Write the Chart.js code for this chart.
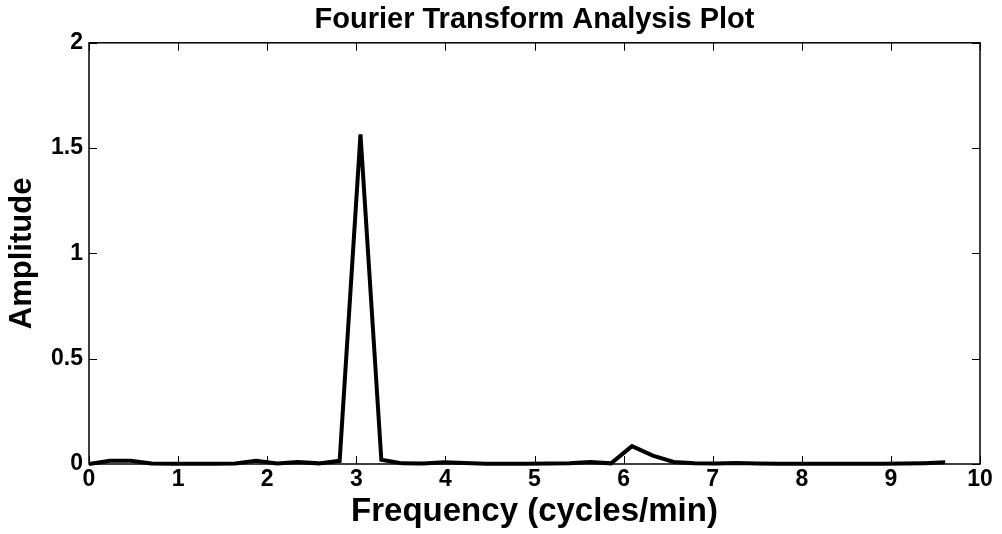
<!DOCTYPE html>
<html>
<head>
<meta charset="utf-8">
<script src="https://cdn.jsdelivr.net/npm/chart.js@4.4.1/dist/chart.umd.min.js"></script>
<style>
  html, body { margin: 0; padding: 0; background: #fff; }
  #wrap { width: 1002px; height: 534px; }
</style>
</head>
<body>
<div id="wrap"><canvas id="fft"></canvas></div>
<script>
// spectrum bins (cycles/min) and their amplitudes
const freq = [
  0, 0.234, 0.469, 0.703, 0.938, 1.172, 1.406, 1.641, 1.875, 2.109,
  2.344, 2.578, 2.813, 3.047, 3.281, 3.516, 3.750, 3.984, 4.219, 4.453,
  4.688, 4.922, 5.156, 5.391, 5.625, 5.859, 6.094, 6.328, 6.563, 6.797,
  7.031, 7.266, 7.500, 7.734, 7.969, 8.203, 8.438, 8.672, 8.906, 9.141,
  9.375, 9.609
]
const amplitude = [
  0, 0.015, 0.015, 0.002, 0.001, 0.001, 0.001, 0.002, 0.015, 0.002,
  0.01, 0.003, 0.015, 1.565, 0.02, 0.003, 0.002, 0.008, 0.005, 0.001,
  0.001, 0.001, 0.002, 0.003, 0.01, 0.003, 0.085, 0.04, 0.01, 0.004,
  0.002, 0.005, 0.002, 0.001, 0.001, 0.001, 0.001, 0.001, 0.001, 0.002,
  0.004, 0.008
]
const xTicks = [0, 1, 2, 3, 4, 5, 6, 7, 8, 9, 10]
const yTicks = [0, 0.5, 1, 1.5, 2]

const FONT = "'Liberation Sans', Arial, sans-serif"

// matlab style frame: box around the axes with inward ticks on all sides
const frame = {
  id: "frame",
  afterDraw(chart) {
    const { ctx, chartArea: a, scales: { x, y } } = chart
    const len = 8
    ctx.save()
    ctx.strokeStyle = "#000"
    ctx.lineWidth = 1.5
    ctx.strokeRect(a.left, a.top, a.right - a.left, a.bottom - a.top)
    ctx.lineWidth = 1
    ctx.beginPath()
    xTicks.forEach(v => {
      const px = Math.round(x.getPixelForValue(v)) + 0.5
      ctx.moveTo(px, a.bottom); ctx.lineTo(px, a.bottom - len)
      ctx.moveTo(px, a.top); ctx.lineTo(px, a.top + len)
    })
    yTicks.forEach(v => {
      const py = Math.round(y.getPixelForValue(v)) + 0.5
      ctx.moveTo(a.left, py); ctx.lineTo(a.left + len, py)
      ctx.moveTo(a.right, py); ctx.lineTo(a.right - len, py)
    })
    ctx.stroke()
    ctx.restore()
  }
}

new Chart(document.getElementById("fft"), {
  type: "line",
  data: {
    datasets: [{
      data: freq.map((f, i) => ({ x: f, y: amplitude[i] })),
      borderColor: "#000",
      borderWidth: 4,
      pointRadius: 0,
      tension: 0,
      fill: false,
      clip: false
    }]
  },
  options: {
    responsive: true,
    maintainAspectRatio: false,
    animation: false,
    layout: { padding: { left: 0, right: 22, top: 0, bottom: 0 } },
    plugins: {
      legend: { display: false },
      tooltip: { enabled: false },
      title: {
        display: true,
        fullSize: false,
        text: "Fourier Transform Analysis Plot",
        color: "#000",
        font: { family: FONT, size: 29, weight: "bold", lineHeight: 1.2 },
        padding: { top: 3, bottom: 5 }
      }
    },
    scales: {
      x: {
        type: "linear",
        min: 0,
        max: 10,
        afterFit: s => { s.height = 70 },
        afterBuildTicks: s => { s.ticks = xTicks.map(v => ({ value: v })) },
        grid: { display: false, drawTicks: false },
        border: { display: false },
        ticks: { color: "#000", padding: 2, font: { family: FONT, size: 23, weight: "bold" } },
        title: {
          display: true,
          text: "Frequency (cycles/min)",
          color: "#000",
          font: { family: FONT, size: 33, weight: "bold", lineHeight: 1.15 },
          padding: { top: 0, bottom: 3 }
        }
      },
      y: {
        min: 0,
        max: 2,
        afterFit: s => { s.width = 89 },
        afterBuildTicks: s => { s.ticks = yTicks.map(v => ({ value: v })) },
        grid: { display: false, drawTicks: false },
        border: { display: false },
        ticks: {
          color: "#000",
          padding: 6,
          font: { family: FONT, size: 23, weight: "bold" },
          callback: v => String(v)
        },
        title: {
          display: true,
          text: "Amplitude",
          color: "#000",
          font: { family: FONT, size: 31, weight: "bold", lineHeight: 1.2 },
          padding: { top: 4, bottom: 0 }
        }
      }
    }
  },
  plugins: [frame]
})
</script>
</body>
</html>
